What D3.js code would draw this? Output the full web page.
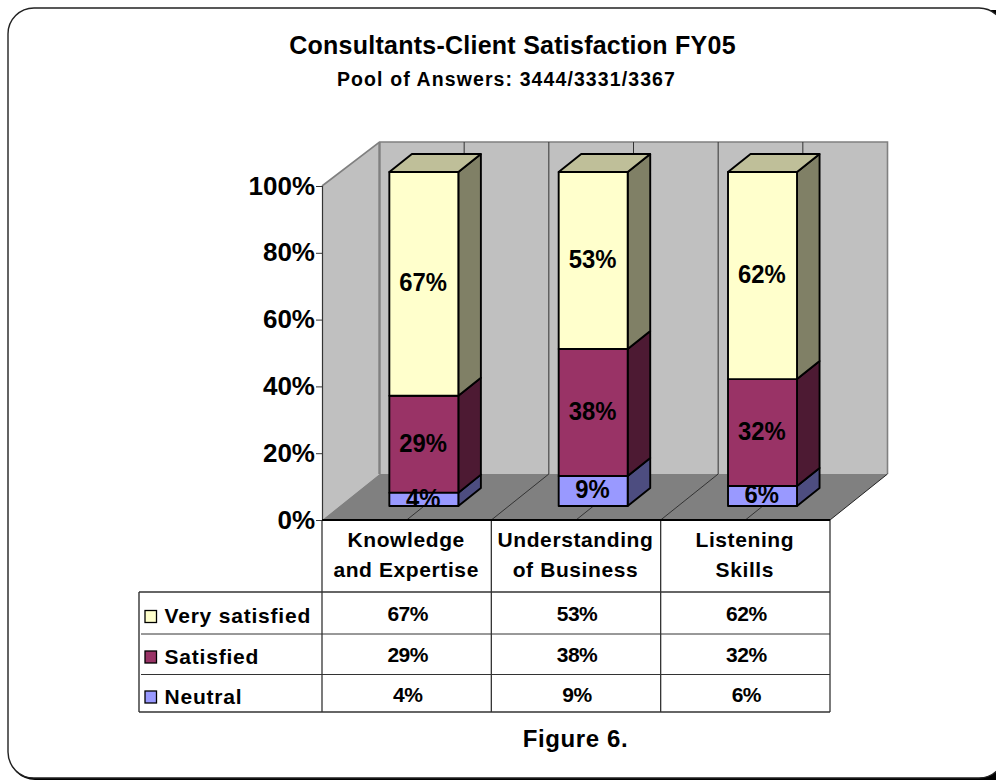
<!DOCTYPE html>
<html>
<head>
<meta charset="utf-8">
<script src="https://cdn.jsdelivr.net/npm/d3@7/dist/d3.min.js"></script>
<style>
html,body{margin:0;padding:0;background:#fff;overflow:hidden}
svg{display:block}
text{font-family:"Liberation Sans",Arial,sans-serif;font-weight:bold;fill:#000}
</style>
</head>
<body>
<svg id="c" width="996" height="781"></svg>
<script>
const titleText = "Consultants-Client Satisfaction FY05";
const subtitleText = "Pool of Answers: 3444/3331/3367";
const figureText = "Figure 6.";
const categories = ["Knowledge and Expertise", "Understanding of Business", "Listening Skills"];
const categoryLines = [["Knowledge", "and Expertise"], ["Understanding", "of Business"], ["Listening", "Skills"]];
const seriesNames = ["Neutral", "Satisfied", "Very satisfied"];
const neutral = [4, 9, 6];
const satisfied = [29, 38, 32];
const verySatisfied = [67, 53, 62];
const yTicks = [0, 20, 40, 60, 80, 100];
const seriesFront = {"Neutral": "#9999FF", "Satisfied": "#993366", "Very satisfied": "#FFFFCC"};
const seriesSide = {"Neutral": "#4D4D80", "Satisfied": "#4D1A33", "Very satisfied": "#808066"};
const seriesTop = {"Neutral": "#7373BF", "Satisfied": "#73264D", "Very satisfied": "#BFBF99"};

const rows = categories.map((c, i) => ({
  category: c, "Neutral": neutral[i], "Satisfied": satisfied[i], "Very satisfied": verySatisfied[i]
}));
const stacked = d3.stack().keys(seriesNames)(rows);

const svg = d3.select("#c");

// frame
svg.append("rect").attr("x", 9).attr("y", 10).attr("width", 1040).attr("height", 770)
  .attr("rx", 26).attr("fill", "#000");
svg.append("rect").attr("x", 8).attr("y", 8).attr("width", 997).attr("height", 770)
  .attr("rx", 26).attr("fill", "#fff").attr("stroke", "#222").attr("stroke-width", 1.4);

// scales
const x = d3.scaleBand().domain(categories).range([322, 830]);
const y = d3.scaleLinear().domain([0, 100]).range([520, 186]);
const depthX = 57.5, depthY = -46;
const wallTop = 99.4;
// project(px, value, depth 0..1) maps chart space to the oblique view
const P = (px, v, d) => [px + depthX * d, y(v) + depthY * d];
const poly = pts => pts.map(p => p.join(",")).join(" ");
const x0 = x.range()[0], x1 = x.range()[1];

// walls and floor
svg.append("polygon").attr("points", poly([P(x0,0,0), P(x0,100,0), P(x0,wallTop,1), P(x0,0,1)]))
  .attr("fill", "#C0C0C0");
svg.append("polygon").attr("points", poly([P(x0,0,1), P(x0,wallTop,1), P(x1,wallTop,1), P(x1,0,1)]))
  .attr("fill", "#C0C0C0");
svg.append("polygon").attr("points", poly([P(x0,0,0), P(x1,0,0), P(x1,0,1), P(x0,0,1)]))
  .attr("fill", "#808080");
// wall outlines
svg.append("polyline").attr("points", poly([P(x0,100,0), P(x0,wallTop,1), P(x1,wallTop,1), P(x1,0,1)]))
  .attr("fill", "none").attr("stroke", "#808080").attr("stroke-width", 1.6);
svg.append("line").attr("x1", P(x0,wallTop,1)[0]).attr("y1", P(x0,wallTop,1)[1])
  .attr("x2", P(x0,0,1)[0]).attr("y2", P(x0,0,1)[1])
  .attr("stroke", "#808080").attr("stroke-width", 2.4);

// vertical gridlines: at each category boundary and midpoint
const gridPositions = [];
categories.forEach((c, i) => {
  gridPositions.push(x(c) + x.bandwidth() / 2);
  if (i < categories.length - 1) gridPositions.push(x(c) + x.bandwidth());
});
gridPositions.forEach(px => {
  svg.append("polyline").attr("points", poly([P(px,0,0), P(px,0,1), P(px,wallTop,1)]))
    .attr("fill", "none").attr("stroke", "#333").attr("stroke-width", 1);
});

// bars
const barW = 69, dNear = 0.304, dFar = 0.696;
const barLeft = c => x(c) + (x.bandwidth() - barW) / 2 - 0.3;
stacked.forEach(layer => {
  const key = layer.key;
  layer.forEach((seg, i) => {
    const c = categories[i], l = barLeft(c), r = l + barW, a = seg[0], b = seg[1];
    const g = svg.append("g").attr("stroke", "#000").attr("stroke-width", 1.9).attr("stroke-linejoin", "round");
    g.append("polygon").attr("points", poly([P(r,a,dNear), P(r,b,dNear), P(r,b,dFar), P(r,a,dFar)]))
      .attr("fill", seriesSide[key]);
    if (b >= 100) {
      g.append("polygon").attr("points", poly([P(l,b,dNear), P(r,b,dNear), P(r,b,dFar), P(l,b,dFar)]))
        .attr("fill", seriesTop[key]);
    }
    g.append("polygon").attr("points", poly([P(l,a,dNear), P(r,a,dNear), P(r,b,dNear), P(l,b,dNear)]))
      .attr("fill", seriesFront[key]);
  });
});
// data labels
stacked.forEach(layer => {
  layer.forEach((seg, i) => {
    const c = categories[i], l = barLeft(c);
    const p = P(l + barW / 2, (seg[0] + seg[1]) / 2, dNear);
    svg.append("text").attr("transform", `translate(${p[0] - 0.7},${p[1] + 7.5}) scale(0.9,1)`)
      .attr("text-anchor", "middle").attr("font-size", 26.5)
      .text(seg.data[layer.key] + "%");
  });
});

// y axis drawn by d3
const axisG = svg.append("g").attr("transform", `translate(${x0},0)`)
  .call(d3.axisLeft(y).tickValues(yTicks).tickFormat(d => d + "%").tickSize(6).tickPadding(1));
axisG.select(".domain").attr("stroke", "#333").attr("stroke-width", 1.2);
axisG.selectAll(".tick line").attr("stroke", "#333");
axisG.selectAll(".tick text").attr("font-size", 26).attr("font-family", '"Liberation Sans",Arial,sans-serif')
  .attr("font-weight", "bold").attr("fill", "#000").attr("dy", "8px");

// data table
const tableBottom = 712, tableLeft = 139;
const rowLines = [592, 634, 674.5, tableBottom];
const tableOrder = ["Very satisfied", "Satisfied", "Neutral"];
const tableValues = {"Very satisfied": verySatisfied, "Satisfied": satisfied, "Neutral": neutral};
const tableStroke = "#333";
[x0, x0 + x.bandwidth(), x0 + 2 * x.bandwidth(), x1].forEach(px => {
  svg.append("line").attr("x1", px).attr("x2", px).attr("y1", 520).attr("y2", tableBottom)
    .attr("stroke", tableStroke).attr("stroke-width", 1.3);
});
rowLines.forEach((ry, i) => {
  const edge = (i === 0 || i === rowLines.length - 1) ? tableLeft : tableLeft + 2;
  svg.append("line").attr("x1", edge).attr("x2", x1).attr("y1", ry).attr("y2", ry)
    .attr("stroke", tableStroke).attr("stroke-width", (i === 0 || i === rowLines.length - 1) ? 1.4 : 1);
});
svg.append("line").attr("x1", tableLeft).attr("x2", tableLeft).attr("y1", 592).attr("y2", tableBottom)
  .attr("stroke", tableStroke).attr("stroke-width", 1.4);
// front floor edge
svg.append("line").attr("x1", x0).attr("x2", x1).attr("y1", 520).attr("y2", 520)
  .attr("stroke", "#000").attr("stroke-width", 2);
svg.append("line").attr("x1", P(x1,0,0)[0]).attr("y1", P(x1,0,0)[1])
  .attr("x2", P(x1,0,1)[0]).attr("y2", P(x1,0,1)[1]).attr("stroke", "#222").attr("stroke-width", 1);

// category headers
categories.forEach((c, i) => {
  categoryLines[i].forEach((t, j) => {
    svg.append("text").attr("x", x(c) + x.bandwidth() / 2 - 0.5).attr("y", 547 + j * 30)
      .attr("text-anchor", "middle").attr("font-size", 21).attr("letter-spacing", 0.6).text(t);
  });
});
// rows
const rowBase = [622, 662.5, 702.5];
tableOrder.forEach((name, r) => {
  svg.append("rect").attr("x", 145).attr("y", rowBase[r] - 11.5).attr("width", 11.5).attr("height", 12)
    .attr("fill", seriesFront[name]).attr("stroke", "#000").attr("stroke-width", 1.3);
  svg.append("text").attr("x", 164.5).attr("y", rowBase[r] + 1).attr("font-size", 21)
    .attr("letter-spacing", 0.8).text(name);
  tableValues[name].forEach((v, i) => {
    const c = categories[i];
    svg.append("text").attr("x", x(c) + x.bandwidth() / 2 + 1).attr("y", rowBase[r] - 1)
      .attr("text-anchor", "middle").attr("font-size", 21).attr("letter-spacing", -0.5).text(v + "%");
  });
});

// titles
svg.append("text").attr("x", 512.5).attr("y", 54).attr("text-anchor", "middle")
  .attr("font-size", 25).attr("letter-spacing", 0.25).text(titleText);
svg.append("text").attr("x", 506.5).attr("y", 85.5).attr("text-anchor", "middle")
  .attr("font-size", 19.5).attr("letter-spacing", 1.1).text(subtitleText);
svg.append("text").attr("x", 575.5).attr("y", 747).attr("text-anchor", "middle")
  .attr("font-size", 24).attr("letter-spacing", 0.6).text(figureText);
</script>
</body>
</html>
